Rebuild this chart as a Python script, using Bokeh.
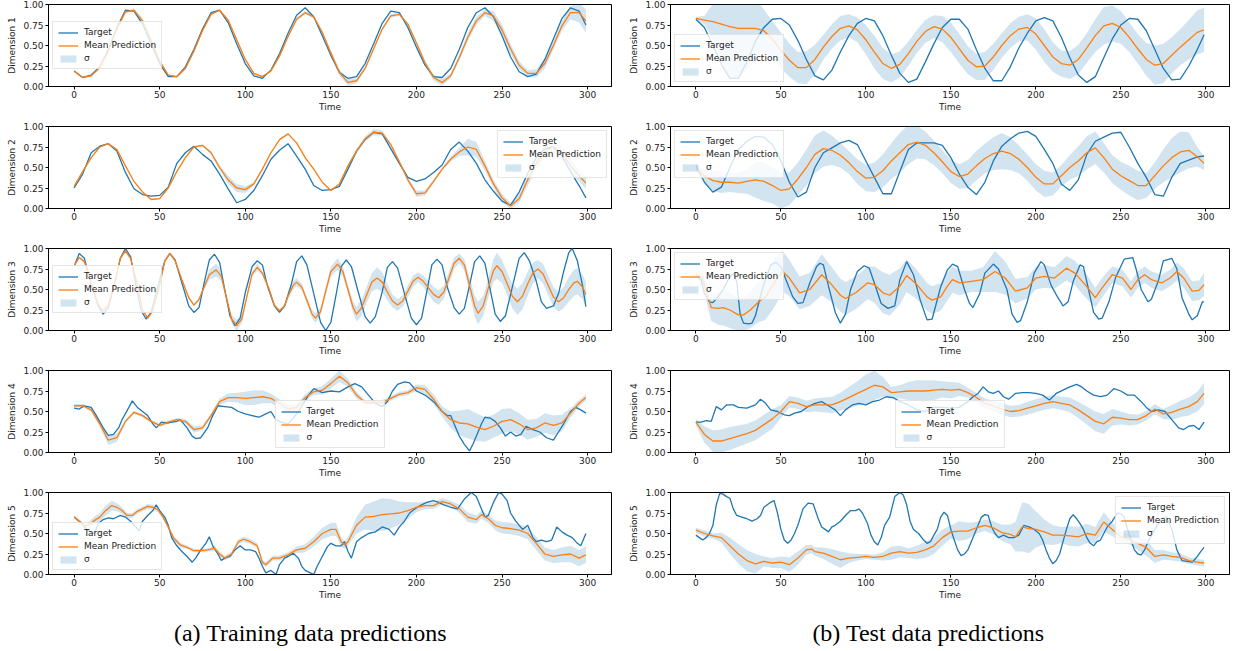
from bokeh.plotting import figure
from bokeh.layouts import column, row
from bokeh.models import Range1d, Legend, LegendItem, FixedTicker, NumeralTickFormatter, Label
from bokeh.embed import file_html
from bokeh.resources import INLINE

T5 = list(range(0, 300, 5)) + [299]
X_TICKS = [0, 50, 100, 150, 200, 250, 300]
Y_TICKS = [0.0, 0.25, 0.5, 0.75, 1.0]
CAPTIONS = ["(a) Training data predictions", "(b) Test data predictions"]

# ---------------- Training, Dimension 1 ----------------
L1_target = [.19, .11, .14, .24, .45, .72, .93, .92, .76, .52,
             .28, .12, .12, .24, .45, .70, .90, .93, .78, .52,
             .28, .13, .10, .20, .40, .65, .87, .96, .85, .62,
             .38, .17, .10, .12, .28, .52, .77, .92, .90, .72,
             .48, .26, .12, .11, .22, .45, .72, .90, .96, .85,
             .62, .36, .18, .12, .15, .33, .58, .83, .96, .92, .75]
L1_mean = [.19, .11, .13, .23, .43, .70, .91, .93, .80, .56,
           .31, .14, .12, .22, .43, .68, .88, .93, .81, .57,
           .33, .16, .12, .19, .37, .61, .82, .90, .85, .66,
           .41, .17, .05, .07, .22, .46, .70, .86, .88, .76,
           .53, .29, .11, .05, .13, .35, .60, .80, .90, .86,
           .69, .46, .26, .16, .16, .28, .50, .74, .90, .90, .80]
L1_sigma = [.01, .01, .01, .01, .01, .01, .01, .02, .03, .03,
            .02, .01, .01, .01, .01, .01, .01, .01, .01, .01,
            .01, .01, .01, .01, .01, .01, .02, .02, .02, .02,
            .03, .04, .04, .03, .02, .02, .02, .02, .02, .02,
            .02, .03, .04, .04, .03, .04, .05, .05, .04, .06,
            .07, .06, .05, .04, .05, .06, .05, .06, .08, .12, .14]

# ---------------- Test, Dimension 1 ----------------
R1_target = [.82, .72, .50, .27, .10, .10, .30, .55, .72, .82,
             .83, .75, .56, .33, .13, .08, .20, .42, .62, .77,
             .83, .80, .62, .38, .16, .05, .09, .30, .52, .72,
             .82, .82, .70, .45, .22, .07, .07, .24, .47, .65,
             .80, .84, .80, .60, .35, .14, .05, .12, .35, .58,
             .75, .83, .82, .68, .45, .22, .08, .09, .25, .45, .63]
R1_mean = [.83, .81, .79, .76, .73, .71, .71, .71, .68, .58,
           .44, .32, .23, .23, .33, .48, .61, .71, .74, .69,
           .57, .42, .28, .22, .27, .40, .55, .67, .73, .70,
           .60, .46, .32, .24, .25, .36, .50, .62, .70, .72,
           .64, .50, .36, .28, .26, .33, .47, .62, .74, .77,
           .72, .60, .46, .33, .26, .28, .38, .48, .57, .66, .69]
R1_sigma = [.02, .05, .22, .45, .63, .62, .50, .38, .26, .22,
            .22, .20, .19, .20, .18, .15, .15, .15, .14, .15,
            .18, .20, .19, .17, .16, .15, .14, .14, .14, .16,
            .18, .18, .17, .16, .17, .16, .15, .15, .15, .16,
            .19, .20, .18, .16, .17, .18, .18, .20, .23, .22,
            .20, .18, .18, .20, .24, .24, .22, .22, .24, .27, .27]

# ---------------- Training, Dimension 2 ----------------
L2_target = [.25, .42, .68, .76, .79, .70, .44, .24, .17, .15,
             .16, .26, .55, .68, .76, .66, .58, .42, .24, .07,
             .11, .22, .40, .60, .71, .79, .64, .48, .28, .22,
             .23, .27, .48, .70, .84, .93, .91, .73, .55, .38,
             .33, .36, .44, .53, .72, .81, .70, .55, .35, .21,
             .09, .04, .20, .43, .62, .73, .75, .64, .45, .28, .13]
L2_mean = [.27, .45, .62, .75, .79, .72, .52, .33, .20, .11,
           .12, .25, .45, .62, .75, .77, .68, .50, .35, .25,
           .23, .30, .48, .68, .84, .91, .80, .62, .48, .32,
           .22, .30, .52, .70, .85, .93, .92, .78, .57, .35,
           .18, .19, .33, .48, .60, .69, .75, .72, .52, .30,
           .13, .03, .12, .35, .55, .70, .75, .67, .52, .40, .31]
L2_sigma = [.01, .01, .01, .01, .01, .01, .01, .01, .01, .01,
            .01, .01, .01, .01, .01, .01, .02, .03, .05, .05,
            .04, .02, .01, .01, .01, .01, .01, .01, .01, .01,
            .01, .01, .02, .03, .03, .04, .03, .02, .02, .03,
            .04, .03, .02, .02, .03, .05, .10, .09, .06, .05,
            .05, .04, .05, .07, .08, .07, .07, .08, .08, .07, .07]

# ---------------- Test, Dimension 2 ----------------
R2_target = [.53, .32, .20, .26, .50, .72, .82, .88, .87, .78,
             .58, .32, .14, .20, .50, .68, .74, .80, .83, .78,
             .58, .38, .18, .18, .45, .72, .80, .80, .80, .77,
             .62, .42, .26, .17, .32, .58, .76, .85, .92, .94,
             .88, .72, .55, .30, .22, .35, .66, .82, .87, .92,
             .93, .75, .55, .38, .17, .15, .38, .55, .59, .63, .64]
R2_mean = [.49, .40, .34, .32, .32, .31, .33, .35, .33, .28,
           .22, .24, .36, .50, .66, .73, .71, .65, .56, .45,
           .37, .38, .46, .58, .68, .78, .81, .77, .68, .57,
           .45, .39, .42, .52, .61, .67, .70, .67, .60, .50,
           .38, .30, .30, .40, .50, .58, .68, .74, .62, .48,
           .40, .34, .28, .28, .40, .52, .62, .69, .71, .63, .55]
R2_sigma = [.03, .08, .12, .13, .12, .12, .15, .22, .24, .22,
            .22, .20, .20, .22, .23, .22, .18, .15, .14, .15,
            .16, .18, .20, .22, .24, .24, .20, .17, .15, .14,
            .14, .15, .17, .18, .18, .20, .22, .20, .17, .16,
            .16, .16, .14, .13, .15, .18, .20, .20, .18, .17,
            .17, .18, .18, .15, .16, .20, .24, .25, .22, .12, .08]

# ---------------- Training, Dimension 3 : (time, value) ----------------
L3_target = [(0, .78), (3, .94), (6, .88), (10, .57), (14, .30), (17, .20), (20, .28), (24, .60),
             (27, .88), (30, 1.0), (33, .90), (36, .57), (39, .25), (42, .14), (45, .22), (49, .54),
             (53, .85), (56, .94), (59, .86), (63, .58), (67, .30), (70, .22), (73, .28), (76, .58),
             (79, .86), (82, .93), (85, .83), (88, .50), (91, .18), (94, .06), (97, .15), (100, .46),
             (104, .78), (107, .85), (110, .80), (113, .54), (117, .30), (120, .22), (123, .30),
             (127, .57), (130, .84), (133, .91), (136, .80), (140, .45), (144, .10), (147, .0),
             (150, .10), (153, .43), (156, .78), (159, .86), (162, .78), (166, .47), (170, .17),
             (173, .09), (176, .17), (180, .47), (183, .77), (186, .84), (189, .76), (193, .45),
             (197, .15), (200, .07), (203, .15), (206, .47), (209, .80), (212, .87), (215, .80),
             (218, .53), (222, .28), (225, .20), (228, .27), (231, .55), (234, .84), (237, .91),
             (240, .82), (243, .51), (246, .20), (249, .11), (252, .18), (256, .53), (260, .88),
             (263, .95), (266, .85), (270, .60), (273, .35), (276, .27), (280, .30), (283, .45),
             (286, .72), (289, .95), (291, 1.0), (294, .85), (297, .55), (299, .29)]
# (time, mean, sigma)
L3_mean = [(0, .79, .015), (3, .89, .015), (6, .84, .015), (10, .57, .015), (14, .32, .015),
           (17, .24, .015), (20, .31, .015), (24, .60, .015), (27, .88, .015), (30, .97, .015),
           (33, .88, .015), (37, .56, .015), (40, .25, .015), (43, .15, .015), (46, .24, .015),
           (50, .55, .015), (53, .85, .015), (56, .94, .015), (59, .85, .015), (63, .62, .015),
           (67, .40, .015), (70, .31, .015), (73, .38, .02), (76, .53, .03), (79, .68, .06),
           (83, .74, .08), (86, .66, .06), (89, .40, .04), (92, .14, .05), (95, .06, .07),
           (98, .14, .05), (101, .42, .03), (104, .69, .03), (107, .77, .04), (110, .70, .03),
           (114, .50, .02), (117, .31, .02), (120, .24, .02), (123, .30, .03), (125, .42, .04),
           (128, .55, .05), (130, .59, .05), (133, .53, .04), (136, .37, .04), (139, .20, .05),
           (141, .15, .06), (144, .23, .05), (147, .48, .05), (150, .72, .06), (154, .81, .07),
           (157, .72, .06), (160, .50, .05), (163, .28, .07), (165, .20, .09), (168, .28, .10),
           (171, .44, .10), (174, .59, .11), (177, .64, .13), (180, .59, .12), (183, .47, .10),
           (186, .36, .08), (189, .31, .07), (192, .36, .07), (195, .48, .07), (198, .60, .07),
           (201, .65, .06), (204, .60, .07), (207, .52, .08), (210, .44, .09), (213, .40, .09),
           (216, .47, .08), (219, .64, .08), (222, .82, .07), (225, .88, .06), (228, .80, .07),
           (231, .55, .10), (234, .30, .13), (236, .21, .14), (239, .30, .12), (242, .52, .12),
           (245, .73, .14), (247, .79, .16), (250, .72, .14), (253, .57, .14), (256, .42, .15),
           (259, .35, .16), (262, .42, .16), (265, .57, .15), (268, .70, .13), (271, .75, .11),
           (274, .69, .12), (277, .55, .12), (280, .41, .12), (283, .35, .12), (286, .40, .13),
           (289, .50, .15), (292, .58, .16), (294, .60, .16), (297, .53, .15), (299, .44, .15)]

# ---------------- Test, Dimension 3 ----------------
R3_target = [(0, .68), (3, .62), (5, .45), (8, .35), (10, .34), (13, .41), (16, .50), (19, .62),
             (22, .70), (24, .60), (26, .20), (28, .09), (31, .08), (33, .09), (35, .18), (39, .50),
             (44, .80), (47, .83), (50, .78), (53, .62), (57, .41), (60, .33), (63, .34), (67, .58),
             (71, .78), (73, .82), (75, .80), (78, .54), (82, .22), (85, .09), (88, .20), (91, .50),
             (95, .72), (99, .79), (102, .76), (105, .58), (109, .33), (113, .27), (117, .30),
             (120, .62), (124, .84), (128, .68), (132, .37), (136, .13), (139, .14), (144, .53),
             (148, .74), (151, .81), (154, .78), (158, .50), (161, .33),
             (163, .28), (167, .45), (170, .70), (175, .81), (178, .75), (183, .50), (186, .20),
             (189, .10), (191, .12), (195, .35), (199, .70), (203, .84), (205, .80), (209, .55),
             (213, .40), (216, .30), (219, .35), (222, .60), (226, .80), (228, .78), (231, .50),
             (234, .22), (237, .14), (239, .15), (243, .35), (247, .65), (252, .87), (257, .89),
             (259, .75), (262, .50), (266, .35), (268, .38), (272, .60), (275, .85), (280, .88),
             (283, .75), (286, .40), (290, .20), (292, .13), (295, .18), (298, .35), (299, .35)]
R3_mean = [(0, .68, .03), (4, .62, .08), (9, .28, .16), (13, .27, .20), (16, .28, .22),
           (20, .25, .22), (25, .19, .20), (28, .19, .20), (32, .25, .22), (37, .35, .25),
           (41, .41, .28), (46, .58, .30), (51, .72, .25), (55, .64, .22), (61, .46, .20),
           (67, .50, .20), (74, .68, .25), (79, .58, .22), (85, .43, .20), (88, .39, .20),
           (94, .46, .20), (101, .58, .20), (105, .56, .22), (110, .46, .25), (114, .43, .25),
           (120, .54, .22), (124, .67, .20), (130, .56, .18), (136, .41, .17), (139, .37, .17),
           (144, .41, .17), (148, .54, .17), (151, .62, .16), (155, .58, .15), (162, .60, .13),
           (169, .62, .15), (176, .72, .25), (182, .64, .20), (188, .48, .15), (195, .52, .13),
           (200, .64, .14), (205, .66, .14), (211, .64, .13), (218, .76, .15), (223, .70, .15),
           (229, .56, .15), (235, .40, .12), (239, .52, .12), (245, .68, .10), (251, .64, .10),
           (256, .50, .10), (260, .62, .10), (264, .68, .10), (268, .62, .10), (274, .58, .10),
           (279, .64, .10), (283, .72, .11), (287, .64, .12), (292, .48, .12), (296, .49, .12),
           (299, .56, .14)]

# ---------------- Training, Dimension 4 ----------------
L4_target = [(0, .54), (3, .53), (6, .57), (10, .55), (13, .45), (17, .30), (20, .21), (23, .22),
             (26, .30), (28, .40), (32, .55), (34, .63), (37, .55), (40, .50), (43, .45), (46, .35),
             (48, .30), (51, .37), (55, .36), (60, .38), (62, .40), (66, .30), (69, .20), (71, .17),
             (74, .18), (78, .30), (81, .45), (84, .57), (88, .56), (92, .55), (96, .50), (100, .47),
             (104, .45), (108, .43), (112, .47), (115, .50), (118, .40), (121, .37), (125, .35),
             (128, .42), (131, .50), (134, .60), (137, .70), (140, .78), (145, .73), (150, .75),
             (155, .74), (160, .80), (164, .84), (168, .80), (172, .70), (176, .60), (180, .56),
             (183, .62), (186, .75), (189, .83), (193, .86), (196, .85), (200, .75), (205, .70),
             (210, .62), (213, .55), (215, .50), (218, .45), (220, .45), (222, .35), (225, .20),
             (228, .10), (231, .02), (233, .10), (236, .25), (238, .35), (240, .43), (243, .42),
             (246, .38), (249, .30), (252, .20), (255, .25), (258, .20), (261, .22), (264, .32),
             (268, .28), (272, .25), (276, .18), (280, .15), (283, .25), (286, .35), (290, .50),
             (293, .55), (296, .52), (299, .48)]
L4_mean = [.57, .57, .52, .35, .15, .18, .38, .49, .45, .38,
           .33, .37, .40, .38, .28, .30, .45, .62, .67, .67,
           .66, .67, .68, .66, .60, .53, .55, .67, .74, .76,
           .84, .93, .85, .70, .61, .61, .61, .66, .71, .73,
           .79, .77, .65, .50, .40, .36, .35, .31, .28, .32,
           .38, .40, .35, .28, .30, .36, .33, .36, .48, .60, .67]
L4_sigma = [.02, .02, .02, .04, .06, .05, .02, .02, .02, .02,
            .02, .02, .02, .03, .04, .03, .03, .04, .05, .06,
            .08, .09, .08, .06, .05, .05, .04, .04, .04, .05,
            .06, .07, .05, .04, .03, .03, .03, .03, .03, .03,
            .04, .05, .06, .06, .10, .15, .18, .17, .15, .14,
            .15, .14, .13, .12, .11, .12, .12, .10, .06, .04, .04]

# ---------------- Test, Dimension 4 ----------------
R4_target = [(0, .37), (3, .37), (6, .39), (9, .38), (12, .56), (15, .52), (18, .58), (22, .58),
             (25, .55), (30, .54), (35, .58), (38, .65), (41, .60), (44, .52), (48, .50), (52, .46),
             (55, .45), (58, .48), (62, .50), (66, .56), (70, .60), (74, .62), (78, .57), (82, .52),
             (85, .45), (88, .52), (92, .58), (96, .60), (100, .58), (104, .62), (108, .64),
             (112, .68), (116, .67), (120, .62), (125, .58), (130, .52), (135, .50), (140, .55),
             (145, .55), (150, .54), (155, .55), (160, .62), (163, .68), (166, .72), (169, .80),
             (172, .74), (175, .72), (178, .75), (181, .68), (184, .65), (188, .72), (192, .73),
             (196, .73), (200, .72), (204, .70), (208, .64), (212, .72), (216, .76), (220, .80),
             (224, .83), (227, .80), (230, .75), (234, .70), (238, .68), (242, .70), (246, .78),
             (250, .75), (254, .70), (258, .70), (262, .62), (265, .55), (268, .50), (272, .52),
             (276, .50), (280, .40), (284, .30), (287, .28), (290, .32), (293, .33), (296, .28),
             (299, .37)]
R4_mean = [.37, .22, .14, .14, .17, .20, .23, .27, .34, .41,
           .50, .62, .60, .56, .58, .58, .58, .62, .67, .72,
           .77, .82, .80, .73, .74, .75, .75, .75, .76, .77,
           .76, .77, .73, .67, .60, .57, .53, .50, .51, .54,
           .57, .60, .62, .60, .58, .52, .45, .38, .35, .43,
           .42, .40, .40, .45, .53, .47, .49, .53, .56, .62, .72]
R4_sigma = [.04, .10, .13, .14, .14, .13, .12, .12, .12, .12,
            .08, .07, .07, .07, .08, .09, .10, .11, .13, .15,
            .18, .18, .12, .07, .08, .11, .13, .13, .12, .10,
            .10, .08, .06, .06, .06, .06, .07, .07, .07, .08,
            .08, .08, .08, .08, .09, .10, .11, .12, .12, .10,
            .08, .07, .06, .06, .06, .06, .09, .10, .11, .12, .13]

# ---------------- Training, Dimension 5 ----------------
L5_target = [(0, .70), (3, .65), (5, .62), (7, .55), (10, .52), (12, .50), (14, .62), (17, .67),
             (20, .69), (23, .68), (27, .72), (30, .70), (33, .65), (36, .58), (38, .53), (40, .65),
             (43, .72), (46, .78), (48, .85), (50, .78), (53, .70), (55, .60), (57, .45), (60, .35),
             (63, .28), (66, .22), (69, .15), (71, .20), (74, .30), (77, .38), (79, .46), (81, .35),
             (84, .25), (86, .17), (88, .20), (91, .22), (94, .30), (97, .35), (100, .30),
             (103, .30), (106, .28), (108, .20), (110, .10), (112, .02), (115, .05), (118, .00),
             (120, .12), (123, .20), (125, .22), (128, .26), (131, .20), (133, .10), (135, .05),
             (138, .02), (140, .00), (142, .10), (145, .22), (148, .34), (150, .38), (153, .35),
             (156, .35), (158, .40), (160, .28), (162, .20), (165, .40), (168, .45), (172, .50),
             (176, .52), (180, .58), (184, .55), (187, .48), (190, .58), (193, .65), (196, .75),
             (199, .80), (203, .85), (206, .88), (210, .90), (213, .88), (216, .85), (220, .82),
             (224, .80), (228, .92), (232, 1.0), (235, .95), (238, .80), (240, .70), (242, .72),
             (245, .88), (248, 1.0), (250, .98), (253, .90), (255, .75), (258, .65), (262, .55),
             (265, .60), (268, .45), (270, .40), (273, .42), (276, .40), (279, .42), (282, .58),
             (285, .52), (288, .48), (291, .45), (294, .38), (296, .35), (299, .50)]
L5_mean = [(0, .70, .02), (3, .65, .02), (6, .59, .03), (9, .61, .04), (12, .66, .05),
           (15, .70, .05), (18, .77, .06), (22, .84, .06), (25, .82, .05), (28, .78, .04),
           (31, .72, .03), (34, .72, .03), (37, .77, .03), (40, .80, .03), (43, .83, .03),
           (46, .82, .03), (49, .79, .03), (52, .70, .03), (55, .58, .03), (58, .45, .03),
           (62, .36, .03), (66, .33, .02), (70, .29, .02), (74, .29, .02), (78, .30, .02),
           (82, .32, .03), (85, .25, .03), (88, .20, .03), (92, .25, .03), (96, .40, .03),
           (99, .43, .03), (103, .40, .03), (107, .35, .03), (110, .15, .03), (112, .12, .03),
           (116, .20, .03), (120, .20, .03), (125, .24, .03), (130, .30, .04), (135, .32, .05),
           (140, .40, .06), (145, .50, .07), (150, .55, .08), (153, .55, .08), (156, .40, .06),
           (158, .36, .05), (160, .40, .05), (165, .60, .10), (170, .70, .15), (175, .71, .18),
           (180, .73, .20), (185, .74, .18), (190, .75, .14), (195, .78, .10), (200, .82, .06),
           (205, .84, .04), (210, .84, .04), (215, .89, .04), (220, .86, .04), (225, .80, .05),
           (230, .70, .06), (235, .67, .05), (238, .73, .05), (242, .68, .05), (246, .60, .06),
           (250, .57, .07), (255, .56, .07), (260, .54, .07), (265, .50, .07), (270, .38, .08),
           (275, .25, .08), (280, .22, .08), (285, .24, .09), (290, .25, .10), (295, .20, .10),
           (299, .24, .10)]

# ---------------- Test, Dimension 5 ----------------
R5_target = [(0, .48), (2, .45), (4, .42), (6, .45), (8, .50), (10, .60), (12, .85), (14, .99),
             (16, .98), (18, .95), (20, .93), (22, .80), (24, .72), (27, .70), (30, .68), (33, .65),
             (36, .68), (38, .72), (40, .82), (42, .85), (44, .88), (46, .90), (48, .75), (50, .55),
             (52, .42), (54, .38), (56, .42), (58, .50), (60, .60), (63, .80), (66, .87), (69, .86),
             (72, .68), (74, .58), (76, .55), (78, .52), (80, .58), (82, .60), (85, .65), (88, .72),
             (91, .78), (94, .78), (96, .80), (98, .75), (101, .62), (103, .48), (105, .40),
             (107, .36), (109, .45), (111, .60), (114, .70), (117, .95), (120, 1.0), (122, .97),
             (124, .85), (126, .65), (128, .55), (131, .50), (134, .42), (136, .38), (138, .40),
             (140, .48), (142, .55), (144, .70), (146, .76), (148, .72), (150, .55), (152, .42),
             (154, .30), (156, .23), (158, .25), (160, .30), (162, .40), (164, .50), (166, .60),
             (168, .70), (170, .73), (172, .72), (174, .58), (176, .50), (178, .45), (181, .48),
             (184, .45), (187, .45), (190, .48), (193, .60), (196, .58), (199, .55), (202, .50),
             (204, .42), (206, .30), (208, .20), (210, .13), (212, .17), (214, .25), (216, .40),
             (218, .55), (220, .68), (222, .73), (224, .68), (226, .62), (228, .55), (230, .45),
             (232, .38), (234, .35), (236, .40), (238, .42), (240, .50), (242, .58), (245, .65),
             (248, .75), (250, .74), (252, .70), (254, .55), (256, .42), (258, .30), (260, .25),
             (262, .24), (264, .30), (266, .40), (270, .55), (274, .68), (277, .70), (280, .55),
             (283, .30), (286, .17), (289, .16), (292, .15), (295, .22), (297, .28), (299, .33)]
R5_mean = [(0, .54, .03), (5, .50, .04), (10, .47, .03), (15, .45, .06), (20, .35, .10),
           (25, .25, .12), (30, .17, .13), (35, .13, .12), (40, .16, .06), (45, .14, .06),
           (50, .15, .07), (55, .12, .09), (60, .20, .08), (65, .30, .06), (68, .31, .05),
           (70, .28, .05), (75, .26, .07), (80, .22, .09), (85, .18, .10), (90, .20, .06),
           (95, .21, .04), (100, .22, .03), (105, .21, .03), (110, .22, .05), (115, .26, .08),
           (120, .28, .07), (125, .26, .06), (130, .27, .08), (135, .30, .10), (140, .35, .10),
           (145, .45, .10), (150, .52, .08), (155, .53, .12), (160, .53, .10), (165, .57, .07),
           (170, .60, .07), (175, .57, .08), (180, .51, .10), (185, .49, .12), (188, .46, .18),
           (192, .58, .30), (196, .56, .30), (200, .55, .22), (205, .52, .15), (210, .48, .12),
           (215, .48, .10), (220, .47, .12), (225, .46, .12), (230, .50, .12), (235, .48, .10),
           (240, .64, .12), (245, .55, .08), (250, .46, .06), (255, .43, .06), (260, .38, .08),
           (265, .33, .10), (270, .22, .08), (275, .24, .06), (280, .22, .05), (285, .21, .05),
           (290, .17, .04), (295, .15, .04), (299, .14, .04)]

BLUE = "#1f77b4"
ORANGE = "#ff7f0e"
FONT = "DejaVu Sans"


def pairs(seq):
    return [s[0] for s in seq], [s[1] for s in seq]


def triples(seq):
    return [s[0] for s in seq], [s[1] for s in seq], [s[2] for s in seq]


def make_panel(dim, tt, tv, mt, mv, sg, loc, left):
    assert len(tt) == len(tv), ("target", dim, left, len(tt), len(tv))
    assert len(mt) == len(mv) == len(sg), ("mean", dim, left, len(mt), len(mv), len(sg))
    p = figure(width=626 if left else 605, height=122, output_backend="svg",
               toolbar_location=None,
               x_range=Range1d(-14.95, 313.95), y_range=Range1d(0, 1),
               min_border_left=48 if left else 40, min_border_right=15 if left else 2,
               min_border_top=4, min_border_bottom=36)
    p.xgrid.visible = False
    p.ygrid.visible = False
    p.outline_line_color = "black"
    p.outline_line_alpha = 1.0
    p.outline_line_width = 1
    p.background_fill_color = "white"
    p.border_fill_color = "white"

    lo = [m - s for m, s in zip(mv, sg)]
    hi = [m + s for m, s in zip(mv, sg)]
    band = p.varea(x=mt, y1=lo, y2=hi, fill_color=BLUE, fill_alpha=0.2)
    tl = p.line(tt, tv, line_color=BLUE, line_width=1.3)
    ml = p.line(mt, mv, line_color=ORANGE, line_width=1.3)

    legend = Legend(items=[LegendItem(label="Target", renderers=[tl]),
                           LegendItem(label="Mean Prediction", renderers=[ml]),
                           LegendItem(label="σ", renderers=[band])],
                    location=loc)
    legend.margin = 4
    legend.padding = 5
    legend.spacing = 3
    legend.glyph_width = 20
    legend.glyph_height = 9
    legend.label_height = 9
    legend.label_standoff = 6
    legend.label_text_font = FONT
    legend.label_text_font_size = "9px"
    legend.label_text_color = "#222222"
    legend.border_line_color = "#cccccc"
    legend.border_line_width = 1
    legend.background_fill_color = "white"
    legend.background_fill_alpha = 0.8
    p.add_layout(legend)

    for ax in (p.xaxis[0], p.yaxis[0]):
        ax.axis_line_color = "black"
        ax.major_tick_line_color = "black"
        ax.minor_tick_line_color = None
        ax.major_tick_out = 3
        ax.major_tick_in = 0
        ax.major_label_text_font = FONT
        ax.major_label_text_font_size = "9px"
        ax.major_label_text_color = "#222222"
        ax.axis_label_text_font = FONT
        ax.axis_label_text_font_size = "9px"
        ax.axis_label_text_font_style = "normal"
        ax.axis_label_text_color = "#222222"
    p.xaxis[0].ticker = FixedTicker(ticks=X_TICKS)
    p.yaxis[0].ticker = FixedTicker(ticks=Y_TICKS)
    p.yaxis[0].formatter = NumeralTickFormatter(format="0.00")
    p.xaxis[0].axis_label = "Time"
    p.yaxis[0].axis_label = "Dimension %d" % dim
    p.xaxis[0].major_label_standoff = 1
    p.xaxis[0].axis_label_standoff = 1
    p.yaxis[0].major_label_standoff = 2
    p.yaxis[0].axis_label_standoff = 3
    return p


rows = []
# Dimension 1
a = make_panel(1, T5, L1_target, T5, L1_mean, L1_sigma, "center_left", True)
b = make_panel(1, T5, R1_target, T5, R1_mean, R1_sigma, "bottom_left", False)
rows.append(row(a, b))
# Dimension 2
a = make_panel(2, T5, L2_target, T5, L2_mean, L2_sigma, "top_right", True)
b = make_panel(2, T5, R2_target, T5, R2_mean, R2_sigma, "top_left", False)
rows.append(row(a, b))
# Dimension 3
tt, tv = pairs(L3_target)
mt, mv, sg = triples(L3_mean)
a = make_panel(3, tt, tv, mt, mv, sg, "center_left", True)
tt, tv = pairs(R3_target)
mt, mv, sg = triples(R3_mean)
b = make_panel(3, tt, tv, mt, mv, sg, "top_left", False)
rows.append(row(a, b))
# Dimension 4
tt, tv = pairs(L4_target)
a = make_panel(4, tt, tv, T5, L4_mean, L4_sigma, "bottom_center", True)
tt, tv = pairs(R4_target)
b = make_panel(4, tt, tv, T5, R4_mean, R4_sigma, "bottom_center", False)
rows.append(row(a, b))
# Dimension 5
tt, tv = pairs(L5_target)
mt, mv, sg = triples(L5_mean)
a = make_panel(5, tt, tv, mt, mv, sg, "bottom_left", True)
tt, tv = pairs(R5_target)
mt, mv, sg = triples(R5_mean)
b = make_panel(5, tt, tv, mt, mv, sg, "top_right", False)
rows.append(row(a, b))

cap = figure(width=1231, height=38, output_backend="svg", toolbar_location=None,
             x_range=Range1d(0, 1231), y_range=Range1d(0, 38), min_border=0)
cap.axis.visible = False
cap.grid.visible = False
cap.outline_line_color = None
for txt, cx in zip(CAPTIONS, [310, 928]):
    cap.add_layout(Label(x=cx, y=16, text=txt, text_align="center", text_baseline="middle",
                         text_font="Liberation Serif", text_font_size="24px", text_color="black"))

page = column(*rows, cap)
open("out.html", "w").write(file_html(page, INLINE))
